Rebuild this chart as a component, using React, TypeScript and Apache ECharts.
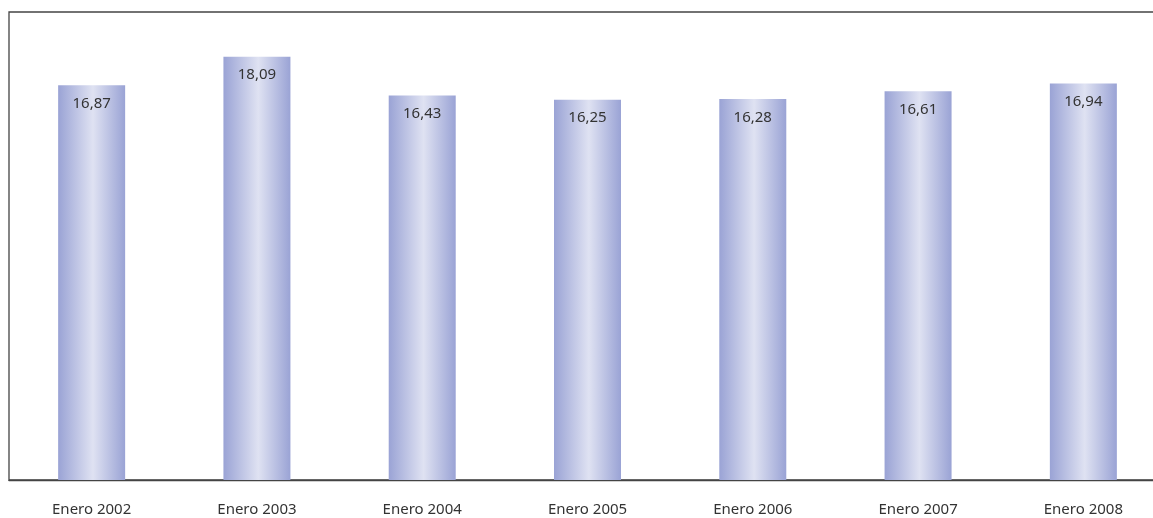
import React, { useEffect, useRef } from "react";
import * as echarts from "echarts";

const categories = ["Enero 2002", "Enero 2003", "Enero 2004", "Enero 2005", "Enero 2006", "Enero 2007", "Enero 2008"];
const values = [16.87, 18.09, 16.43, 16.25, 16.28, 16.61, 16.94];

export default function App() {
  const ref = useRef<HTMLDivElement>(null);
  useEffect(() => {
    if (!ref.current) return;
    const chart = echarts.init(ref.current, null, { renderer: "svg" });
    const grad = new echarts.graphic.LinearGradient(0, 0, 1, 0, [
      { offset: 0, color: "#9aa3d5" },
      { offset: 0.52, color: "#dfe2f2" },
      { offset: 1, color: "#9aa3d5" },
    ]);
    chart.setOption({
      animation: false,
      grid: { left: 9, top: 12, right: 0, bottom: 38, show: true, borderColor: "#444", borderWidth: 1.3, backgroundColor: "transparent" },
      xAxis: {
        type: "category",
        data: categories,
        axisLine: { show: true, lineStyle: { color: "#444", width: 1.3 } },
        axisTick: { show: false },
        axisLabel: { color: "#333", fontSize: 15, fontFamily: "Noto Sans", margin: 20 },
      },
      yAxis: {
        type: "value",
        min: 0,
        max: 20,
        show: false,
        splitLine: { show: false },
      },
      series: [
        {
          type: "bar",
          data: values,
          barWidth: 67,
          itemStyle: { color: grad },
          label: {
            show: true,
            position: "insideTop",
            distance: 9,
            color: "#333",
            fontSize: 15,
            fontFamily: "Noto Sans",
            formatter: (p: any) => p.value.toFixed(2).replace(".", ","),
          },
        },
      ],
    });
    return () => chart.dispose();
  }, []);
  return <div ref={ref} style={{ position: "fixed", left: 0, top: 0, width: 1166, height: 518 }} />;
}
